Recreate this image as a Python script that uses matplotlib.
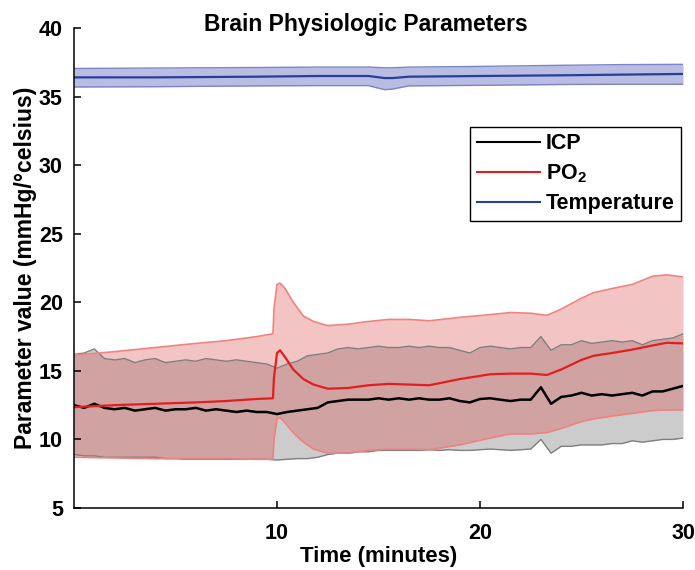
import matplotlib
matplotlib.use("Agg")
import matplotlib.pyplot as plt
from matplotlib.lines import Line2D

plt.rcParams['font.family'] = ['Liberation Sans', 'DejaVu Sans']
plt.rcParams['font.weight'] = 'bold'
plt.rcParams['mathtext.fontset'] = 'custom'
plt.rcParams['mathtext.rm'] = 'Liberation Sans:bold'
plt.rcParams['mathtext.bf'] = 'Liberation Sans:bold'
plt.rcParams['mathtext.it'] = 'Liberation Sans:bold'
plt.rcParams['mathtext.default'] = 'bf'

# ---------------- data ----------------
t_icp = [i * 0.5 for i in range(61)]
icp_mean = [12.5, 12.3, 12.6, 12.3, 12.2, 12.3, 12.1, 12.2, 12.3, 12.1,
            12.2, 12.2, 12.3, 12.1, 12.2, 12.1, 12.0, 12.1, 12.0, 12.0,
            11.85, 12.0, 12.1, 12.2, 12.3, 12.7, 12.8, 12.9, 12.9, 12.9,
            13.0, 12.9, 13.0, 12.9, 13.0, 12.9, 12.9, 13.0, 12.8, 12.7,
            12.95, 13.0, 12.9, 12.8, 12.9, 12.9, 13.8, 12.6, 13.1, 13.2,
            13.4, 13.2, 13.3, 13.2, 13.3, 13.4, 13.2, 13.5, 13.5, 13.7,
            13.9]
icp_upper = [16.2, 16.3, 16.6, 15.9, 15.8, 15.9, 15.6, 15.8, 15.9, 15.6,
             15.7, 15.8, 15.7, 15.9, 15.8, 15.7, 15.8, 15.7, 15.6, 15.5,
             15.2, 15.5, 15.7, 16.1, 16.2, 16.3, 16.6, 16.7, 16.6, 16.7,
             16.8, 16.7, 16.7, 16.8, 16.7, 16.8, 16.7, 16.7, 16.5, 16.3,
             16.7, 16.8, 16.7, 16.6, 16.7, 16.7, 17.5, 16.5, 16.9, 16.9,
             17.2, 17.0, 17.1, 17.2, 17.1, 17.2, 16.9, 17.2, 17.3, 17.4,
             17.7]
icp_lower = [8.9, 8.8, 8.8, 8.7, 8.7, 8.7, 8.7, 8.7, 8.7, 8.6,
             8.6, 8.55, 8.55, 8.55, 8.55, 8.55, 8.55, 8.55, 8.55, 8.55,
             8.5, 8.55, 8.6, 8.6, 8.7, 8.9, 9.0, 9.0, 9.1, 9.1,
             9.2, 9.2, 9.2, 9.2, 9.2, 9.25, 9.2, 9.25, 9.2, 9.2,
             9.25, 9.3, 9.25, 9.2, 9.25, 9.3, 10.0, 9.0, 9.5, 9.5,
             9.6, 9.6, 9.6, 9.7, 9.7, 9.9, 9.8, 9.9, 10.0, 10.0,
             10.1]

t_po2 = [0, 2, 4, 6, 7.5, 9, 9.8, 9.85, 10.0, 10.15, 10.4, 10.8, 11.3, 11.8,
         12.5, 13.5, 14.5, 15.5, 16.5, 17.5, 19, 20.5, 21.5, 22.5, 23.3, 24,
         25, 25.6, 26.5, 27.5, 28.5, 29.2, 30]
po2_mean = [12.35, 12.5, 12.6, 12.7, 12.8, 12.95, 13.0, 14.5, 16.3, 16.5,
            16.0, 15.1, 14.4, 14.0, 13.7, 13.75, 13.95, 14.05, 14.0, 13.95,
            14.4, 14.75, 14.8, 14.8, 14.7, 15.1, 15.8, 16.1, 16.3, 16.55,
            16.85, 17.05, 17.0]
po2_upper = [16.15, 16.4, 16.7, 17.0, 17.2, 17.5, 17.7, 19.5, 21.3, 21.4,
             21.0, 20.0, 19.0, 18.6, 18.3, 18.4, 18.6, 18.75, 18.75, 18.65,
             18.9, 19.1, 19.25, 19.2, 19.05, 19.5, 20.3, 20.7, 21.0, 21.3,
             21.9, 22.0, 21.85]
po2_lower = [8.7, 8.65, 8.6, 8.6, 8.6, 8.55, 8.55, 10.0, 11.5, 11.6,
             11.2, 10.5, 9.8, 9.3, 9.0, 9.0, 9.2, 9.3, 9.3, 9.25,
             9.6, 10.1, 10.4, 10.4, 10.5, 10.8, 11.3, 11.5, 11.7, 11.9,
             12.1, 12.15, 12.15]

t_temp = [0, 4, 9, 12, 14.5, 15.3, 15.7, 16.5, 20, 24, 27, 30]
temp_mean = [36.4, 36.4, 36.45, 36.5, 36.5, 36.35, 36.35, 36.45, 36.5, 36.55, 36.6, 36.65]
temp_upper = [37.05, 37.08, 37.12, 37.15, 37.15, 37.1, 37.1, 37.15, 37.2, 37.28, 37.33, 37.35]
temp_lower = [35.7, 35.72, 35.78, 35.8, 35.8, 35.5, 35.55, 35.78, 35.82, 35.88, 35.9, 35.9]

labels = ["ICP", "PO$_2$", "Temperature"]
x_ticks = [10, 20, 30]
y_ticks = [5, 10, 15, 20, 25, 30, 35, 40]

# ---------------- figure ----------------
fig = plt.figure(figsize=(6.95, 5.7), dpi=100)
ax = fig.add_axes([74 / 695, 1 - 508 / 570, (683 - 74) / 695, (508 - 28) / 570])

c_temp_fill = '#b9bde3'
c_temp_edge = '#7d84c6'
c_temp_line = '#263f99'
c_po2_line = '#e41e1e'

# Temperature
ax.fill_between(t_temp, temp_lower, temp_upper, color=c_temp_fill, lw=0)
ax.plot(t_temp, temp_upper, color=c_temp_edge, lw=1.0)
ax.plot(t_temp, temp_lower, color=c_temp_edge, lw=1.0)
ax.plot(t_temp, temp_mean, color=c_temp_line, lw=1.6)

# ICP
ax.fill_between(t_icp, icp_lower, icp_upper, color='#cccccc', lw=0)
ax.plot(t_icp, icp_upper, color='#808080', lw=1.0)
ax.plot(t_icp, icp_lower, color='#808080', lw=1.0)
ax.plot(t_icp, icp_mean, color='black', lw=1.8)

# PO2
ax.fill_between(t_po2, po2_lower, po2_upper, color=(0.85, 0.3, 0.3), alpha=0.33, lw=0)
ax.plot(t_po2, po2_upper, color='#f08282', lw=1.2)
ax.plot(t_po2, po2_lower, color='#f08282', lw=1.2)
ax.plot(t_po2, po2_mean, color=c_po2_line, lw=1.6)

ax.set_xlim(0, 30)
ax.set_ylim(5, 40)
ax.set_xticks(x_ticks)
ax.set_yticks(y_ticks)
ax.tick_params(direction='in', length=5, width=1.1, labelsize=15.5, pad=8)
ax.tick_params(axis='x', pad=11)
for s in ['top', 'right']:
    ax.spines[s].set_visible(False)
for s in ['left', 'bottom']:
    ax.spines[s].set_linewidth(1.1)
for lab in ax.get_xticklabels() + ax.get_yticklabels():
    lab.set_fontweight('bold')

ax.set_xlabel('Time (minutes)', fontsize=16, fontweight='bold', labelpad=1)
ax.set_ylabel('Parameter value (mmHg/°celsius)', fontsize=16.5, fontweight='bold', labelpad=1)
fig.text(366 / 695, 1 - 31 / 570, 'Brain Physiologic Parameters', ha='center', va='baseline',
         fontsize=16.5, fontweight='bold')

handles = [Line2D([], [], color='black', lw=1.5),
           Line2D([], [], color=c_po2_line, lw=1.5),
           Line2D([], [], color=c_temp_line, lw=1.5)]
leg = ax.legend(handles, labels, loc='upper right', bbox_to_anchor=(0.9965, 0.794),
                borderaxespad=0, fancybox=False, frameon=True, edgecolor='black',
                framealpha=1, handlelength=2.95, handletextpad=0.25,
                labelspacing=0.38, borderpad=0.3, prop={'weight': 'bold', 'size': 15.5})
leg.get_frame().set_linewidth(1.0)

fig.savefig('out.png', dpi=100)
